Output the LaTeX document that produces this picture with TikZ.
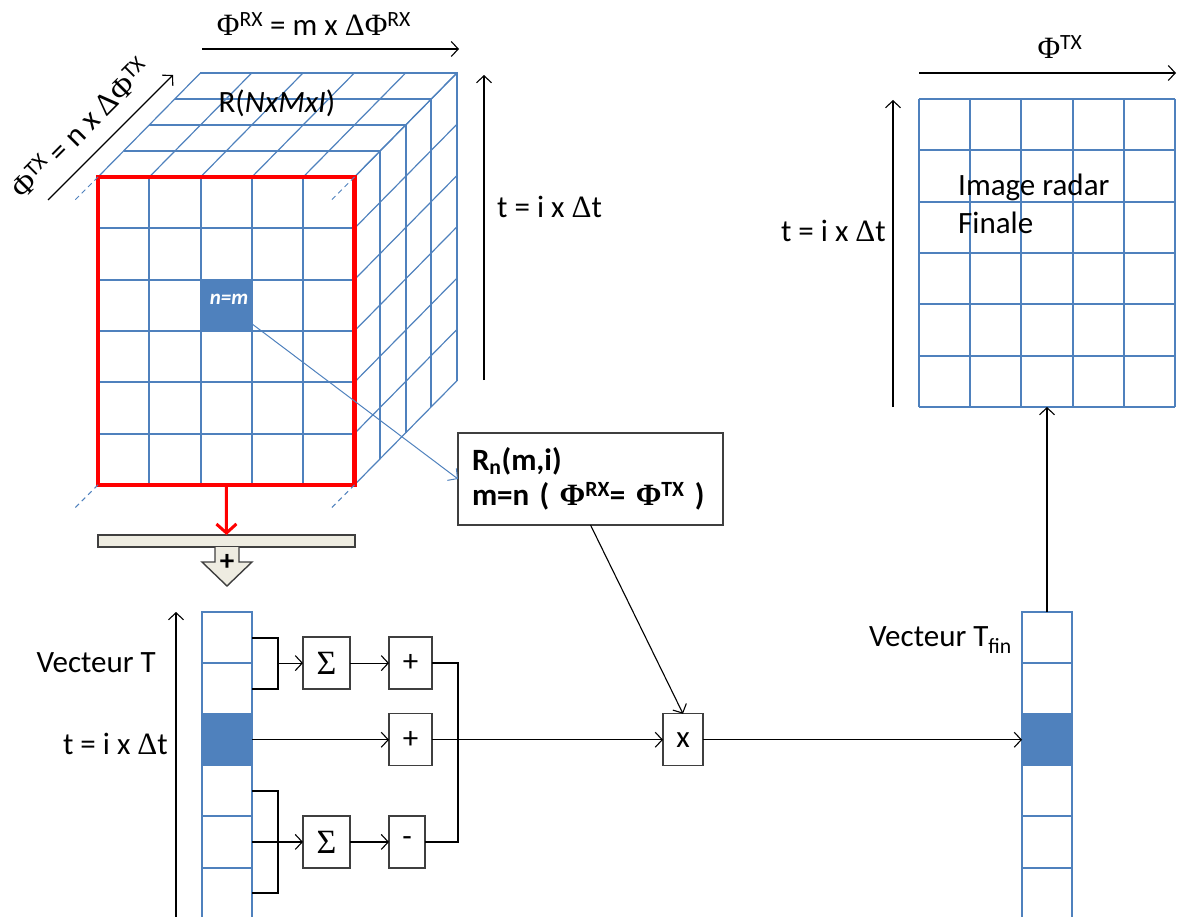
\documentclass[tikz,border=0pt]{standalone}
\usepackage{fontspec}
\setmainfont{Carlito}
\newfontfamily\grk{Liberation Serif}
\usetikzlibrary{arrows.meta,positioning}
\definecolor{gridblue}{HTML}{4F81BD}
\definecolor{barbeige}{HTML}{EEECE1}
\definecolor{boxgray}{HTML}{3F3F3F}
\newcommand{\phig}{{\grk Φ}}
\newcommand{\delg}{{\grk Δ}}
\newcommand{\sigg}{{\grk\fontsize{34}{38}\selectfont Σ}}

\begin{document}
\begin{tikzpicture}[x=1pt, y=-1pt,
  txt/.style={font=\fontsize{31}{38}\selectfont, inner sep=0pt},
  sig/.style={-{Straight Barb[length=7pt,width=15pt]}, line width=1.1pt},
  brk/.style={line width=2pt},
  grd/.style={gridblue, line width=2pt},
  diag/.style={gridblue, line width=1.2pt},
  hid/.style={gridblue, line width=1pt, dash pattern=on 5pt off 4pt},
  cell/.style={draw=gridblue, line width=2pt, minimum width=50pt, minimum height=51.1pt, inner sep=0pt, outer sep=0pt},
  opbox/.style={draw=boxgray, line width=1.4pt, fill=white, minimum width=47pt, minimum height=52pt, inner sep=0pt, outer sep=0pt, font=\fontsize{31}{38}\selectfont},
]
\useasboundingbox (0,0) rectangle (1178,917);

% cube R(NxMxI)
\foreach \k in {1,...,4}
  \draw[grd] ({98+25.6*\k},{177-26*\k}) -- ({354.5+25.6*\k},{177-26*\k}) -- ({354.5+25.6*\k},{484.8-26*\k});
\foreach \c in {0,...,5}
  \draw[diag] ({98+51.3*\c},177) -- ++(102.4,-104);
\foreach \r in {0,...,6}
  \draw[diag] (354.5,{177+51.3*\r}) -- ++(102.4,-104);
\foreach \c in {1,...,4}
  \draw[grd] ({98+51.3*\c},177) -- ({98+51.3*\c},484.8);
\foreach \r in {1,...,5}
  \draw[grd] (98,{177+51.3*\r}) -- (354.5,{177+51.3*\r});
\node[fill=gridblue, minimum size=51.3pt, inner sep=0pt] (nm) at (227.6,305.5) {};
\node[text=white, font=\fontsize{21}{24}\selectfont\bfseries\itshape] (nmtxt) at (229,299) {n=m};
\node[draw=red, line width=4.5pt, minimum width=256.5pt, minimum height=307.8pt, inner sep=0pt, outer sep=0pt] (front) at (226.25,330.9) {};
\foreach \a in {north west,north east,south west,south east}
  \draw[hid] (front.\a) -- ++(-25,25);
\node[txt] (rlabel) at (277,103) {R(\textit{NxMxI})};

% axes of the cube
\coordinate (rxA) at (202,49);
\coordinate (rxB) at (459,49);
\draw[sig] (rxA) -- (rxB);
\node[txt] (phirx) at (314,24) {\phig\textsuperscript{RX} = m x \delg\phig\textsuperscript{RX}};
\coordinate (txA) at (48,200);
\coordinate (txB) at (173,75);
\draw[sig] (txA) -- (txB);
\node[txt, rotate=45] (phitx) at (80,128) {\phig\textsuperscript{TX} = n x \delg\phig\textsuperscript{TX}};
\coordinate (tcA) at (484,380);
\coordinate (tcB) at (484,75);
\draw[sig] (tcA) -- (tcB);
\node[txt, anchor=west] (tcube) at (497,207) {t = i x \delg t};

% selected range
\node[draw=boxgray, line width=1.4pt, fill=white, anchor=north west, minimum width=265pt, minimum height=92pt, text width=237pt, align=left, inner sep=0pt, inner xsep=14pt, outer sep=0pt, font=\fontsize{31}{35}\selectfont\bfseries] (rn) at (458,433) {R\textsubscript{n}(m,i)\\ m=n ( \phig\textsuperscript{RX}= \phig\textsuperscript{TX} )};
\draw[gridblue, line width=1pt, -{Straight Barb[length=7pt,width=15pt]}] (nm.center) -- (rn.west);

% summation bar
\node[draw=boxgray, fill=barbeige, line width=1.4pt, minimum width=257pt, minimum height=12pt, inner sep=0pt, outer sep=0pt] (bar) at (226.5,541) {};
\draw[red, line width=3pt, -{Straight Barb[length=9pt,width=20pt]}] (front.south) -- (bar.north);
\draw[boxgray, fill=barbeige, line width=1.4pt] (215,547) -- (215,562) -- (202,562) -- (227,586) -- (252,562) -- (239,562) -- (239,547);
\node[font=\fontsize{29}{30}\selectfont\bfseries] (plus) at (227,562) {+};

% vecteur T
\foreach \i in {1,...,6}
  \node[cell] (t\i) at (227,{612+51.1*(\i-0.5)}) {};
\fill[gridblue] (t3.south west) rectangle (t3.north east);
\coordinate (vtA) at (176,920);
\coordinate (vtB) at (176,612);
\draw[sig] (vtA) -- (vtB);
\node[txt, anchor=east] (vtlabel) at (156,663) {Vecteur T};
\node[txt, anchor=east] (vtt) at (168,744) {t = i x \delg t};

\coordinate (brA) at (278,0 |- t1.south);
\coordinate (brB) at (278,0 |- t5);
\draw[brk] (t1.east) -| (brA) |- (t2.east);
\draw[brk] (t4.east) -| (brB) |- (t6.east);
\draw[brk] (t5.east) -- (brB);

\node[opbox, right=25pt of brA] (sumA) {\sigg};
\node[opbox, right=39pt of sumA, minimum width=43pt] (plusA) {+};
\node[opbox, right=137pt of t3, minimum width=43pt] (plusB) {+};
\node[opbox, right=25pt of brB] (sumB) {\sigg};
\node[opbox, right=39pt of sumB, minimum width=36pt] (minus) {-};
\node[opbox, right=231pt of plusB, minimum width=40pt] (mult) {x};

\draw[sig] (brA) -- (sumA);
\draw[sig] (sumA) -- (plusA);
\draw[sig] (t3.east) -- (plusB);
\draw[sig] (brB) -- (sumB);
\draw[sig] (sumB) -- (minus);
\coordinate (busT) at (458,0 |- plusA);
\draw[brk] (plusA.east) -- (busT) |- (minus.east);
\draw[sig] (plusB.east) -- (mult.west);
\draw[sig] (rn.south) -- (mult.north);

% vecteur T fin
\foreach \i in {1,...,6}
  \node[cell] (f\i) at (1047,{612+51.1*(\i-0.5)}) {};
\fill[gridblue] (f3.south west) rectangle (f3.north east);
\draw[sig] (mult.east) -- (f3.west);
\node[txt, anchor=east] (vflabel) at (1012,640) {Vecteur T\textsubscript{fin}};

% image radar finale
\node[minimum width=256pt, minimum height=308pt, inner sep=0pt, outer sep=0pt] (img) at (1047,253) {};
\foreach \c in {0,...,5}
  \draw[grd] ({919+51.2*\c},99) -- ({919+51.2*\c},407);
\foreach \r in {0,...,6}
  \draw[grd] (919,{99+51.33*\r}) -- (1175,{99+51.33*\r});
\draw[sig] (f1.north) -- (img.south);
\node[txt, anchor=west, align=left] (imgtxt) at (958,204) {Image radar\\Finale};
\coordinate (itA) at (919,73);
\coordinate (itB) at (1176,73);
\draw[sig] (itA) -- (itB);
\node[txt] (phitx2) at (1060,47) {\phig\textsuperscript{TX}};
\coordinate (ivA) at (893,407);
\coordinate (ivB) at (893,100);
\draw[sig] (ivA) -- (ivB);
\node[txt, anchor=east] (ivt) at (886,231) {t = i x \delg t};
\end{tikzpicture}
\end{document}
